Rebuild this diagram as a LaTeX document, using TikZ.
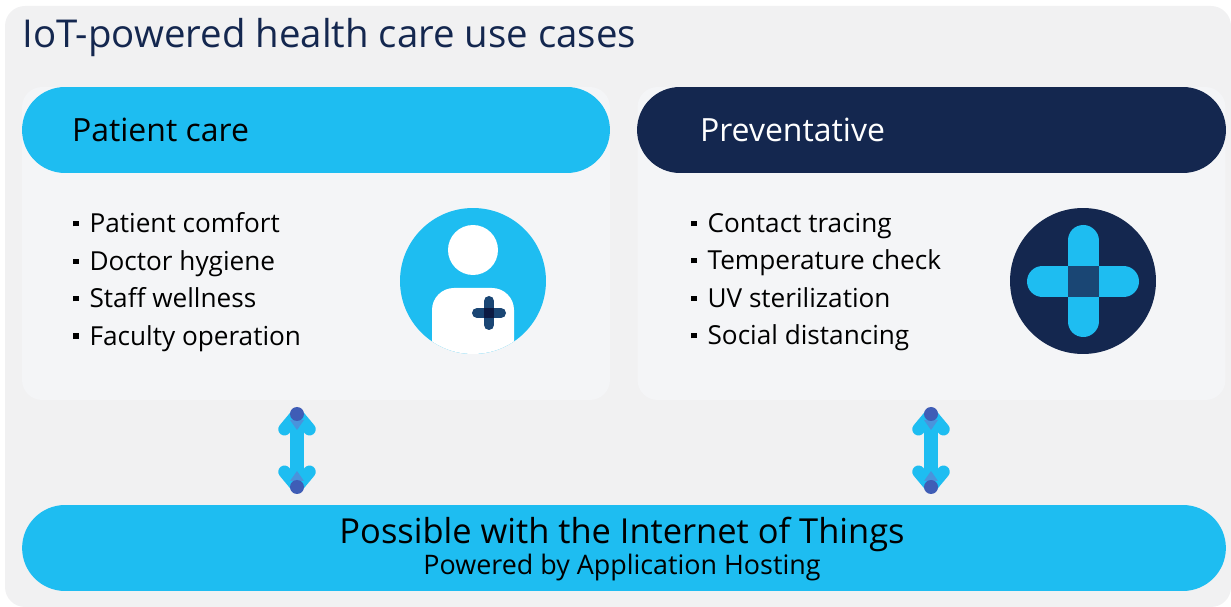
\documentclass[tikz,border=0pt]{standalone}
\usepackage{fontspec}
\setmainfont{Open Sans}
\usetikzlibrary{positioning,arrows.meta}

\definecolor{panelgray}{HTML}{F1F1F2}
\definecolor{cardgray}{HTML}{F4F5F7}
\definecolor{skyblue}{HTML}{1EBDF1}
\definecolor{navyblue}{HTML}{14274F}
\definecolor{crossblue}{HTML}{1A4674}
\definecolor{crossdark}{HTML}{0B1A42}
\definecolor{tipblue}{HTML}{3F5DB6}
\definecolor{tipshade}{HTML}{4A93DC}

\newcommand{\bulletmark}{\rule[0.24em]{0.2em}{0.2em}\hspace{0.42em}}

\tikzset{
	card/.style={fill=cardgray, minimum width=11.76cm, minimum height=6.26cm,
		rounded corners=0.4cm, inner sep=0},
	pill/.style={minimum height=1.72cm, rounded corners=0.86cm, inner sep=0},
	headtext/.style={inner sep=0, font=\fontsize{18.2}{22}\selectfont},
	listtext/.style={inner sep=0, align=left, anchor=west,
		font=\fontsize{14.9}{21.3}\selectfont},
	updown/.style={draw=skyblue, line width=0.27cm,
		{Straight Barb[round,length=0.3cm,width=0.5cm,line width=0.25cm]}-{Straight Barb[round,length=0.3cm,width=0.5cm,line width=0.25cm]}},
	tipdot/.style={circle, fill=tipblue, minimum size=0.28cm, inner sep=0}
}

\begin{document}
\begin{tikzpicture}[x=0.02cm,y=-0.02cm]

\useasboundingbox (0,0) rectangle (1231,607);

% Outer panel
\fill[panelgray, rounded corners=0.4cm] (5,6) rectangle (1231,607);

\node[inner sep=0, text=navyblue, font=\fontsize{21.85}{26}\selectfont,
	anchor=west
] (title) at (22,38) {IoT-powered health care use cases};

% Patient care column
\node[card] (patientcard) at (316,243.5) {};

\node[pill,
	fill=skyblue,
	minimum width=11.76cm
] (patienthead) at (316,130) {};

\node[headtext, right=1cm of patienthead.west] (patientlabel) {Patient care};

\node[listtext] (patientlist) at (73,282) {%
	\bulletmark Patient comfort\\
	\bulletmark Doctor hygiene\\
	\bulletmark Staff wellness\\
	\bulletmark Faculty operation};

% Patient icon
\node[circle, fill=skyblue, minimum size=2.92cm, inner sep=0] (patienticon) at (473,281) {};
\node[circle, fill=white, minimum size=1cm, inner sep=0] (patienthat) at (473,250) {};
\begin{scope}
	\clip (473,281) circle (1.46cm);
	\fill[white, rounded corners=0.44cm] (432,288) rectangle (514,400);
\end{scope}
\draw[crossblue, line width=0.2cm, line cap=round] (477,313) -- (501,313);
\draw[crossblue, line width=0.2cm, line cap=round] (489,301) -- (489,325);
\fill[crossdark] (484,308) rectangle (494,318);

% Preventative column
\node[card] (preventcard) at (931.5,243.5) {};

\node[pill,
	fill=navyblue,
	minimum width=11.78cm
] (preventhead) at (931.5,130) {};

\node[headtext, text=white, right=1.26cm of preventhead.west] (preventlabel) {Preventative};

\node[listtext] (preventlist) at (691,282) {%
	\bulletmark Contact tracing\\
	\bulletmark Temperature check\\
	\bulletmark UV sterilization\\
	\bulletmark Social distancing};

% Preventative icon
\node[circle, fill=navyblue, minimum size=2.92cm, inner sep=0] (preventicon) at (1083,281) {};
\draw[skyblue, line width=0.62cm, line cap=round] (1083,240.5) -- (1083,321.5);
\draw[skyblue, line width=0.62cm, line cap=round] (1042.5,281.5) -- (1123.5,281.5);
\fill[crossblue] (1067.5,266) rectangle (1098.5,297);

% Bottom bar
\node[pill,
	fill=skyblue,
	minimum width=24.08cm
] (internet) at (624,548) {};

\node[inner sep=0, font=\fontsize{19.6}{24}\selectfont] (internetlabel) at (622,534)
	{Possible with the Internet of Things};
\node[inner sep=0, font=\fontsize{15.3}{18}\selectfont] (hostinglabel) at (622,568)
	{Powered by Application Hosting};

% Arrows with blue tips
\coordinate (leftupper) at (297,408);
\coordinate (leftlower) at (297,493);
\coordinate (rightupper) at (931,408);
\coordinate (rightlower) at (931,493);

\draw[updown] (leftupper) -- (leftlower);
\draw[updown] (rightupper) -- (rightlower);

\fill[tipshade] (290,420) -- (304,420) -- (297,430) -- cycle;
\fill[tipshade] (290,481) -- (304,481) -- (297,471) -- cycle;
\fill[tipshade] (924,420) -- (938,420) -- (931,430) -- cycle;
\fill[tipshade] (924,481) -- (938,481) -- (931,471) -- cycle;

\node[tipdot] (leftuppertip) at (297,414) {};
\node[tipdot] (leftlowertip) at (297,487) {};
\node[tipdot] (rightuppertip) at (931,414) {};
\node[tipdot] (rightlowertip) at (931,487) {};

\end{tikzpicture}
\end{document}
